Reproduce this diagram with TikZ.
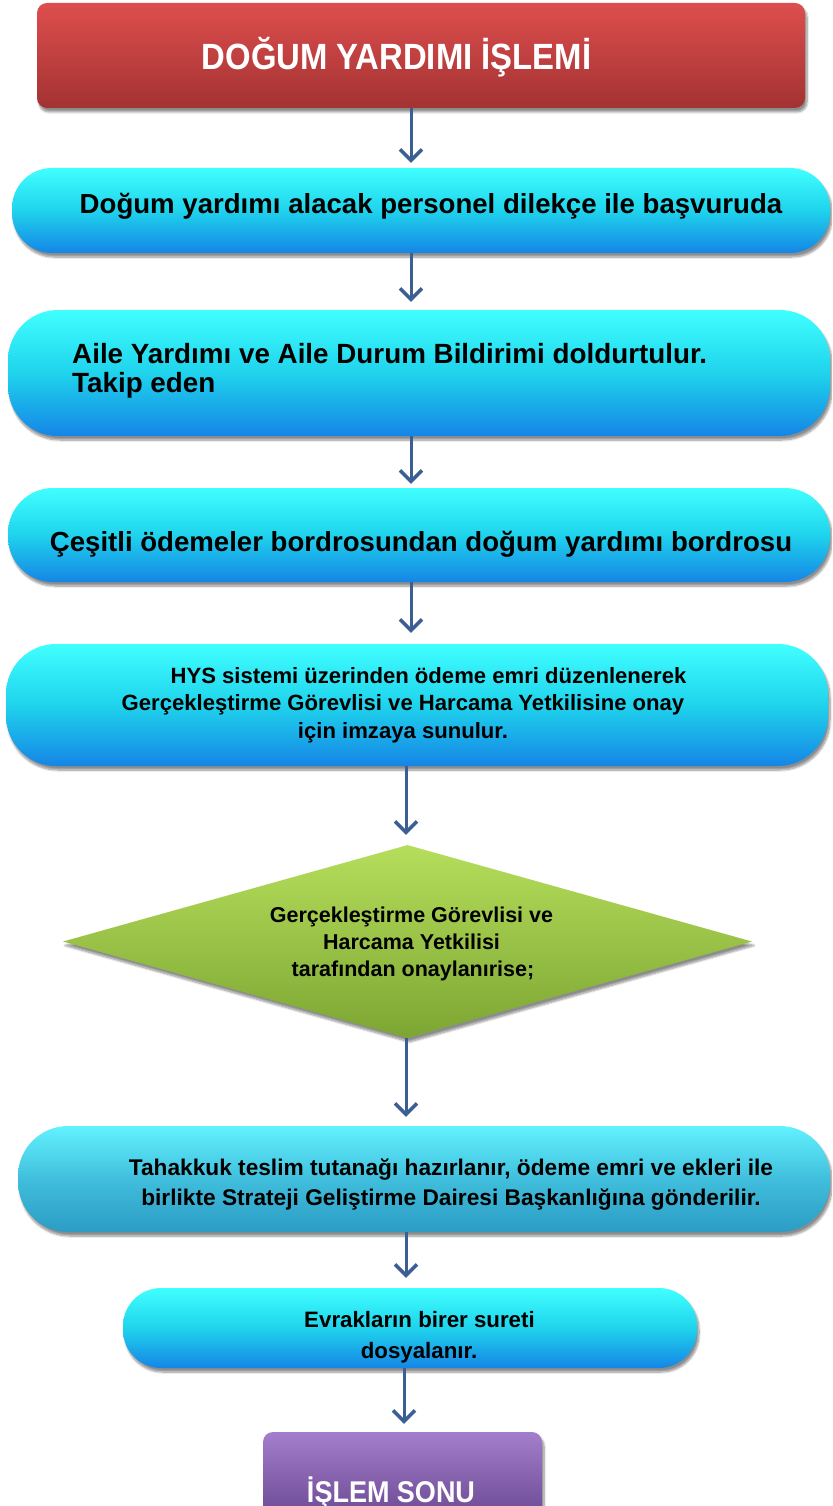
\documentclass[tikz,border=0pt]{standalone}
\usepackage{fontspec}
\setmainfont{Liberation Sans}
\newfontfamily\narrowfont{Liberation Sans}[FakeStretch=0.9]
\usetikzlibrary{arrows.meta,shapes.geometric,shadows.blur}

\definecolor{arrowblue}{HTML}{3B5E94}
\definecolor{redtop}{HTML}{DE4E4E}
\definecolor{redbot}{HTML}{A33232}
\definecolor{cyantop}{HTML}{40FFFF}
\definecolor{cyanmid}{HTML}{1FD3EC}
\definecolor{cyanbot}{HTML}{1585E6}
\definecolor{tealtop}{HTML}{62F2FF}
\definecolor{tealmid}{HTML}{40BEDC}
\definecolor{tealbot}{HTML}{2C9CC4}
\definecolor{greentop}{HTML}{B6DE5C}
\definecolor{greenbot}{HTML}{7CA632}
\definecolor{purtop}{HTML}{A47ECC}
\definecolor{purbot}{HTML}{694790}

\tikzset{
  boxshadow/.style={blur shadow={shadow xshift=2pt, shadow yshift=-4pt, shadow blur steps=8, shadow opacity=45}},
  titlebox/.style={boxshadow, rectangle, rounded corners=10pt, inner sep=0pt,
    top color=redtop, bottom color=redbot},
  pillbox/.style={boxshadow, rectangle, inner sep=0pt,
    top color=cyantop, bottom color=cyanbot, middle color=cyanmid},
  tealbox/.style={boxshadow, rectangle, inner sep=0pt,
    top color=tealtop, bottom color=tealbot, middle color=tealmid},
  decisionbox/.style={boxshadow, diamond, inner sep=0pt,
    top color=greentop, bottom color=greenbot},
  endbox/.style={boxshadow, rectangle, rounded corners=10pt, inner sep=0pt,
    top color=purtop, bottom color=purbot},
  lbl/.style={inner sep=0pt, anchor=base},
  flow/.style={draw=arrowblue, line width=3pt,
    -{Straight Barb[length=11pt,width=22pt,line width=3.5pt]}},
}

\begin{document}
\begin{tikzpicture}[x=1pt,y=-1pt]
\clip (0,0) rectangle (832,1506);

% shapes
\node[titlebox, minimum width=768pt, minimum height=105pt] (title) at (421,55.5) {};
\node[pillbox, rounded corners=40pt, minimum width=818pt, minimum height=85pt] (apply) at (421,210.5) {};
\node[pillbox, rounded corners=50pt, minimum width=822pt, minimum height=126pt] (forms) at (419,373) {};
\node[pillbox, rounded corners=45pt, minimum width=822pt, minimum height=94pt] (payroll) at (419,535) {};
\node[pillbox, rounded corners=50pt, minimum width=822pt, minimum height=122pt] (order) at (417,705) {};
\node[decisionbox, minimum width=689pt, minimum height=193pt] (approve) at (407.5,941.5) {};
\node[tealbox, rounded corners=50pt, minimum width=812pt, minimum height=106pt] (deliver) at (424,1179) {};
\node[pillbox, rounded corners=38pt, minimum width=574pt, minimum height=80pt] (file) at (410,1328) {};
\node[endbox, minimum width=279pt, minimum height=90pt] (finish) at (402.5,1477) {};

% texts
\node[lbl, text=white, font=\narrowfont\bfseries\fontsize{36.5}{40}\selectfont] (t0) at (396.5,70) {DOĞUM YARDIMI İŞLEMİ};
\node[lbl, font=\bfseries\fontsize{27.6}{30}\selectfont] (t1) at (431,214) {Doğum yardımı alacak personel dilekçe ile başvuruda};
\node[lbl, anchor=base west, font=\bfseries\fontsize{27.8}{32}\selectfont] (t2a) at (72,363) {Aile Yardımı ve Aile Durum Bildirimi doldurtulur.};
\node[lbl, anchor=base west, font=\bfseries\fontsize{27.8}{32}\selectfont] (t2b) at (72,392) {Takip eden};
\node[lbl, font=\bfseries\fontsize{27.6}{30}\selectfont] (t3) at (421,551) {Çeşitli ödemeler bordrosundan doğum yardımı bordrosu};
\node[lbl, font=\bfseries\fontsize{22.1}{25}\selectfont] (t4a) at (428.5,683) {HYS sistemi üzerinden ödeme emri düzenlenerek};
\node[lbl, font=\bfseries\fontsize{22.1}{25}\selectfont] (t4b) at (403,710) {Gerçekleştirme Görevlisi ve Harcama Yetkilisine onay};
\node[lbl, font=\bfseries\fontsize{22.1}{25}\selectfont] (t4c) at (403,738) {için imzaya sunulur.};
\node[lbl, font=\bfseries\fontsize{21.5}{24}\selectfont] (t5a) at (411.5,922) {Gerçekleştirme Görevlisi ve};
\node[lbl, font=\bfseries\fontsize{21.5}{24}\selectfont] (t5b) at (411.5,949) {Harcama Yetkilisi};
\node[lbl, font=\bfseries\fontsize{21.5}{24}\selectfont] (t5c) at (413,976) {tarafından onaylanırise;};
\node[lbl, font=\bfseries\fontsize{22.7}{24}\selectfont] (t6a) at (451,1175) {Tahakkuk teslim tutanağı hazırlanır, ödeme emri ve ekleri ile};
\node[lbl, font=\bfseries\fontsize{22.7}{24}\selectfont] (t6b) at (451,1205) {birlikte Strateji Geliştirme Dairesi Başkanlığına gönderilir.};
\node[lbl, font=\bfseries\fontsize{22.3}{24}\selectfont] (t7a) at (419.5,1327) {Evrakların birer sureti};
\node[lbl, font=\bfseries\fontsize{22.3}{24}\selectfont] (t7b) at (419,1358) {dosyalanır.};
\node[lbl, text=white, font=\narrowfont\bfseries\fontsize{30}{34}\selectfont] (t8) at (391,1502) {İŞLEM SONU};

% arrow columns
\coordinate (ca) at (411,0);
\coordinate (cb) at (406,0);
\coordinate (cc) at (404,0);

% connectors
\draw[flow, shorten >=5pt]  (title.south -| ca)   -- (apply.north -| ca);
\draw[flow, shorten >=8pt]  (apply.south -| ca)   -- (forms.north -| ca);
\draw[flow, shorten >=4pt]  (forms.south -| ca)   -- (payroll.north -| ca);
\draw[flow, shorten >=11pt] (payroll.south -| ca) -- (order.north -| ca);
\draw[flow, shorten >=10pt] (order.south -| cb)   -- (approve.north -| cb);
\draw[flow, shorten >=9pt]  (approve.south -| cb) -- (deliver.north -| cb);
\draw[flow, shorten >=10pt] (deliver.south -| cb) -- (file.north -| cb);
\draw[flow, shorten >=8pt]  (file.south -| cc)    -- (finish.north -| cc);
\end{tikzpicture}
\end{document}
